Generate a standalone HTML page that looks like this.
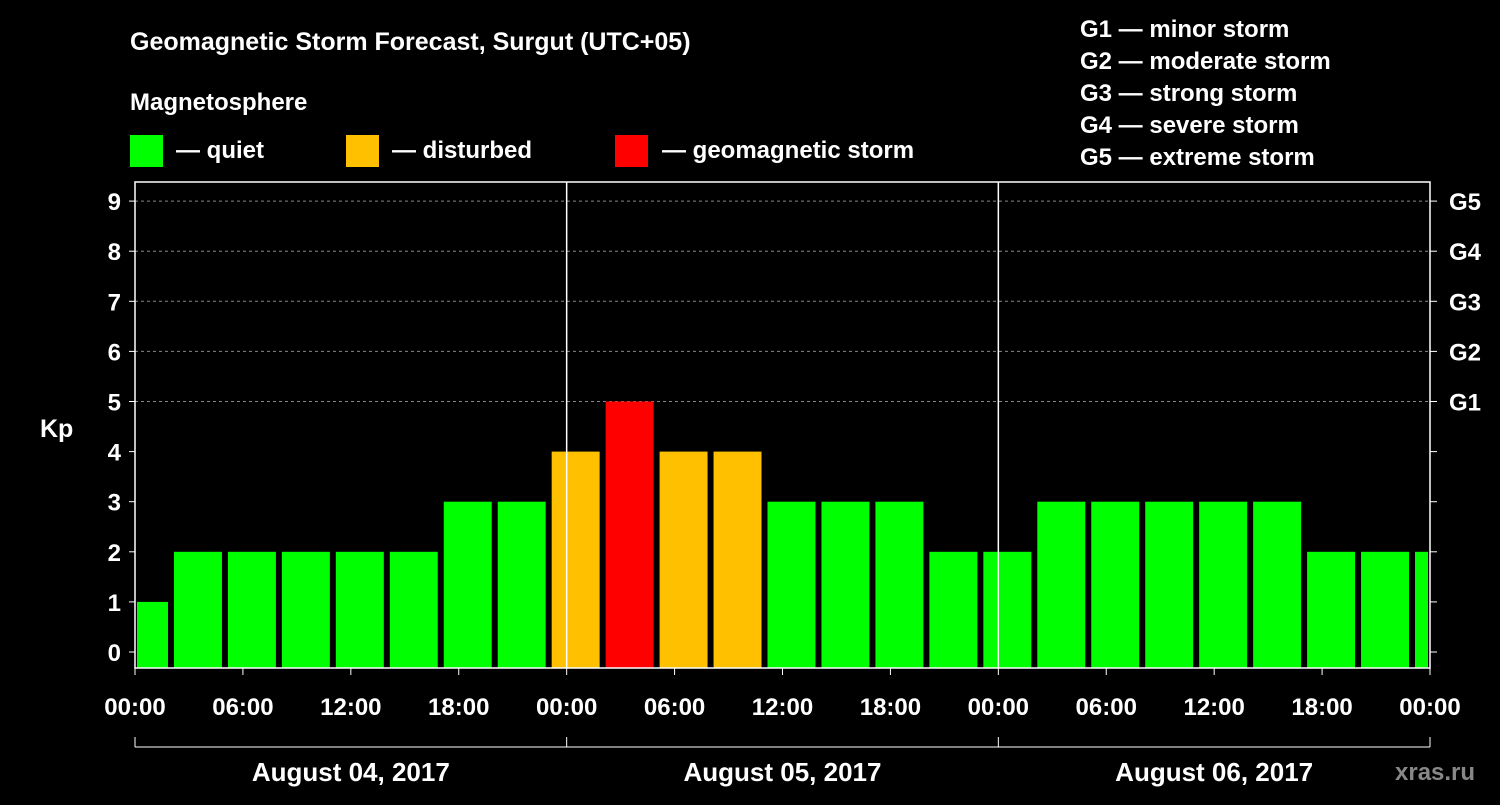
<!DOCTYPE html>
<html><head><meta charset="utf-8"><style>
body{margin:0;background:#000;}
svg text{font-family:"Liberation Sans",Arial,sans-serif;font-weight:bold;fill:#fff;}
</style></head><body>
<svg id="c" width="1500" height="800">
<text x="130" y="50" font-size="25">Geomagnetic Storm Forecast, Surgut (UTC+05)</text>
<text x="130" y="110" font-size="24">Magnetosphere</text>
<rect x="130" y="135" width="33" height="32" fill="#00ff00"/>
<text x="176" y="158" font-size="24">— quiet</text>
<rect x="346" y="135" width="33" height="32" fill="#ffc000"/>
<text x="392" y="158" font-size="24">— disturbed</text>
<rect x="615" y="135" width="33" height="32" fill="#ff0000"/>
<text x="662" y="158" font-size="24">— geomagnetic storm</text>
<g font-size="24">
<text x="1080" y="37">G1 — minor storm</text>
<text x="1080" y="69">G2 — moderate storm</text>
<text x="1080" y="101">G3 — strong storm</text>
<text x="1080" y="133">G4 — severe storm</text>
<text x="1080" y="165">G5 — extreme storm</text>
</g>
<text x="40" y="437" font-size="25">Kp</text>
<text x="1395" y="780" font-size="24" fill="#888" style="fill:#888">xras.ru</text>
<g id="plot"></g>
</svg>
<script>
const kpValues=[1,2,2,2,2,2,3,3,4,5,4,4,3,3,3,2,2,3,3,3,3,3,2,2,2];
const binStartHours=[-1,2,5,8,11,14,17,20,23,26,29,32,35,38,41,44,47,50,53,56,59,62,65,68,71];
const yTicks=[0,1,2,3,4,5,6,7,8,9];
const gLabels=["G1","G2","G3","G4","G5"];
const xTickLabels=["00:00","06:00","12:00","18:00","00:00","06:00","12:00","18:00","00:00","06:00","12:00","18:00","00:00"];
const dayLabels=["August 04, 2017","August 05, 2017","August 06, 2017"];
const L=135,R=1430,T=182,B=668;
const X=h=>L+(R-L)*h/72;
const Y=v=>652-v*50.1;
const g=document.getElementById('plot');
const NS="http://www.w3.org/2000/svg";
function mk(t,a,p){const e=document.createElementNS(NS,t);for(const k in a)e.setAttribute(k,a[k]);(p||g).appendChild(e);return e;}
yTicks.forEach(v=>{
 if(v>=5){const l=mk('line',{x1:L,x2:R,y1:Y(v),y2:Y(v),stroke:'#888','stroke-dasharray':'3,3'});
 
 }
 const t=mk('text',{x:L-14,y:Y(v)+9,'font-size':24,'text-anchor':'end'});t.textContent=v;
 
 
 mk('line',{x1:L-6,x2:L,y1:Y(v),y2:Y(v),stroke:'#fff'});
 mk('line',{x1:R,x2:R+7,y1:Y(v),y2:Y(v),stroke:'#fff'});
});
gLabels.forEach((s,i)=>{const t=mk('text',{x:R+19,y:Y(5+i)+9,'font-size':24});t.textContent=s;
 
 });
kpValues.forEach((v,i)=>{
 let x0=Math.max(X(binStartHours[i])+3,L+2), x1=Math.min(X(binStartHours[i]+3)-3,R-2);
 const c=v>=5?'#ff0000':v>=4?'#ffc000':'#00ff00';
 const r=mk('rect',{x:x0,y:Y(v),width:x1-x0,height:B-Y(v),fill:c});
 
 
});
mk('rect',{x:L,y:T,width:R-L,height:B-T,fill:'none',stroke:'#fff','stroke-width':1.5});
[24,48].forEach(h=>mk('line',{x1:X(h),x2:X(h),y1:T,y2:B,stroke:'#fff','stroke-width':1.5}));
xTickLabels.forEach((s,i)=>{const x=X(i*6);
 mk('line',{x1:x,x2:x,y1:B,y2:B+7,stroke:'#fff'});
 const t=mk('text',{x:x,y:715,'font-size':24,'text-anchor':'middle'});t.textContent=s;
 
 });
mk('line',{x1:L,x2:R,y1:747,y2:747,stroke:'#fff'});
[0,24,48,72].forEach(h=>mk('line',{x1:X(h),x2:X(h),y1:737,y2:747,stroke:'#fff'}));
dayLabels.forEach((s,i)=>{const t=mk('text',{x:X(i*24+12),y:781,'font-size':26,'text-anchor':'middle'});t.textContent=s;
 
 });
</script>
</body></html>
